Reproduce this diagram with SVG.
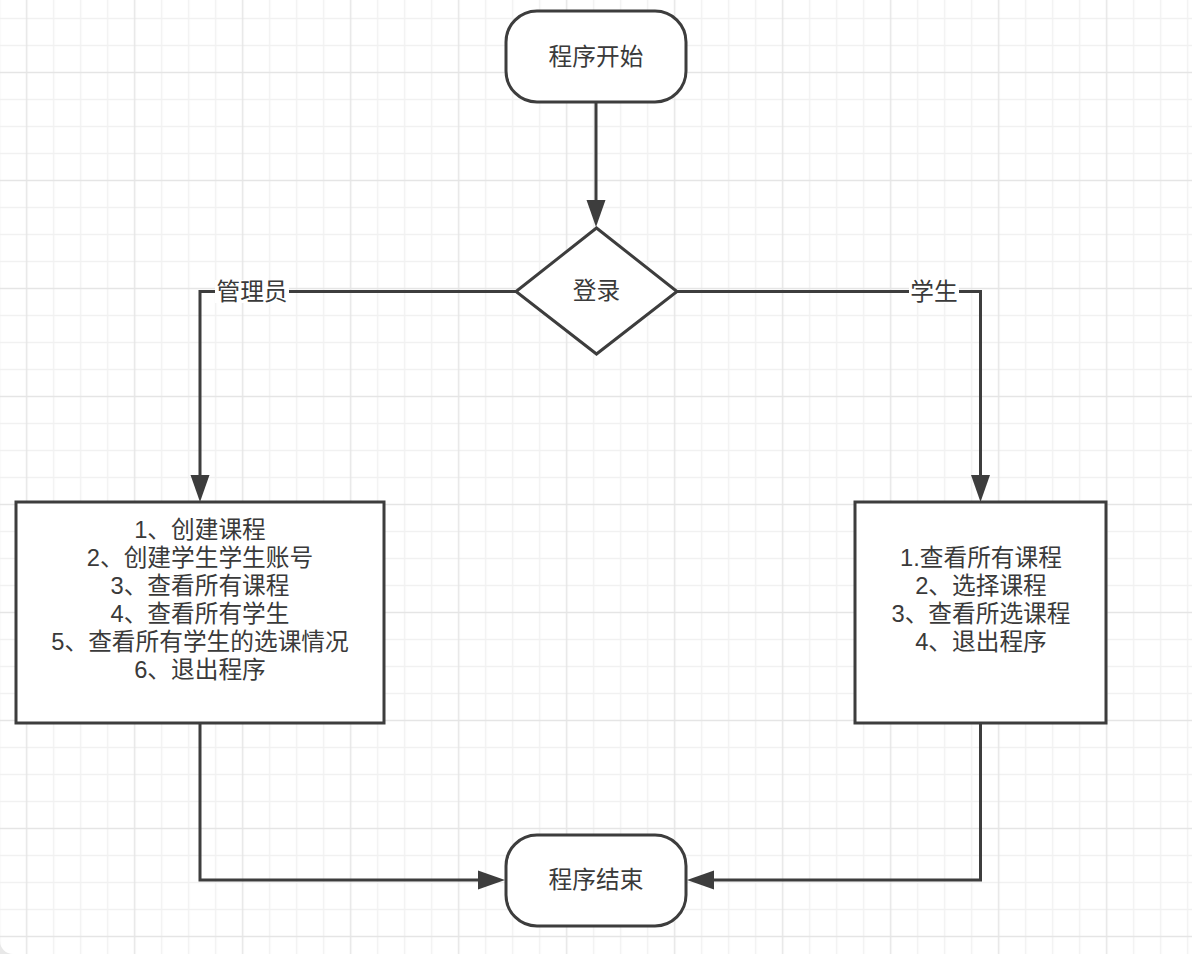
<svg xmlns="http://www.w3.org/2000/svg" width="1192" height="954" viewBox="0 0 1192 954">
<style>
.shape{fill:#ffffff;stroke:#3d3d3d;stroke-width:3}
.conn{fill:none;stroke:#3d3d3d;stroke-width:3}
.t{font-family:"Liberation Sans","Noto Sans CJK SC",sans-serif;font-size:23.7px;fill:#3a3a3a;text-anchor:middle;dominant-baseline:central}
.lblbg{fill:#ffffff}
</style>
<defs>
<pattern id="grid" patternUnits="userSpaceOnUse" x="13.2" y="59" width="108" height="108">
<g stroke="#f1f1f1" stroke-width="1.5">
<line x1="40.5" y1="0" x2="40.5" y2="108"/>
<line x1="67.5" y1="0" x2="67.5" y2="108"/>
<line x1="94.5" y1="0" x2="94.5" y2="108"/>
<line x1="0" y1="40.5" x2="108" y2="40.5"/>
<line x1="0" y1="67.5" x2="108" y2="67.5"/>
<line x1="0" y1="94.5" x2="108" y2="94.5"/>
</g>
<g stroke="#e5e5e5" stroke-width="1.5">
<line x1="13.5" y1="0" x2="13.5" y2="108"/>
<line x1="0" y1="13.5" x2="108" y2="13.5"/>
</g>
</pattern>
<marker id="arrow" markerUnits="userSpaceOnUse" markerWidth="28" markerHeight="20" refX="7" refY="9.5" orient="auto" overflow="visible">
<path d="M0,0 L27,9.5 L0,19 Z" fill="#3d3d3d"/>
</marker>
</defs>
<rect x="0" y="0" width="1192" height="954" fill="#ffffff"/>
<rect x="0" y="0" width="1192" height="954" fill="url(#grid)"/>
<path d="M0,941 A13,13 0 0 0 13,954 L0,954 Z" fill="#e8e8e8"/>

<g id="connectors">
<path class="conn" d="M596,102 V207" marker-end="url(#arrow)"/>
<path class="conn" d="M516,291.5 H200 V482" marker-end="url(#arrow)"/>
<path class="conn" d="M677,291.5 H980.5 V482" marker-end="url(#arrow)"/>
<path class="conn" d="M200,723 V880 H485" marker-end="url(#arrow)"/>
<path class="conn" d="M980.5,723 V880 H707" marker-end="url(#arrow)"/>
<g id="label-admin">
<rect class="lblbg" x="215" y="280" width="74" height="23"/>
<text class="t" x="252" y="291.5">管理员</text>
</g>
<g id="label-student">
<rect class="lblbg" x="909" y="280" width="50" height="23"/>
<text class="t" x="934" y="291.5">学生</text>
</g>
</g>

<g id="start">
<rect class="shape" x="506" y="11" width="180" height="91" rx="31" ry="31"/>
<text class="t" x="596" y="57">程序开始</text>
</g>

<g id="login">
<polygon class="shape" points="596.5,228 677,291.5 596.5,354 516,291.5"/>
<text class="t" x="596.5" y="291">登录</text>
</g>

<g id="admin">
<rect class="shape" x="16" y="502" width="368" height="221"/>
<text class="t" x="200" y="530">1、创建课程</text>
<text class="t" x="200" y="558">2、创建学生学生账号</text>
<text class="t" x="200" y="586">3、查看所有课程</text>
<text class="t" x="200" y="614">4、查看所有学生</text>
<text class="t" x="200" y="642">5、查看所有学生的选课情况</text>
<text class="t" x="200" y="670">6、退出程序</text>
</g>

<g id="student">
<rect class="shape" x="855" y="502" width="251" height="221"/>
<text class="t" x="981" y="558">1.查看所有课程</text>
<text class="t" x="981" y="586">2、选择课程</text>
<text class="t" x="981" y="614">3、查看所选课程</text>
<text class="t" x="981" y="642">4、退出程序</text>
</g>

<g id="end">
<rect class="shape" x="506" y="835" width="180" height="91" rx="31" ry="31"/>
<text class="t" x="596" y="880">程序结束</text>
</g>
</svg>
